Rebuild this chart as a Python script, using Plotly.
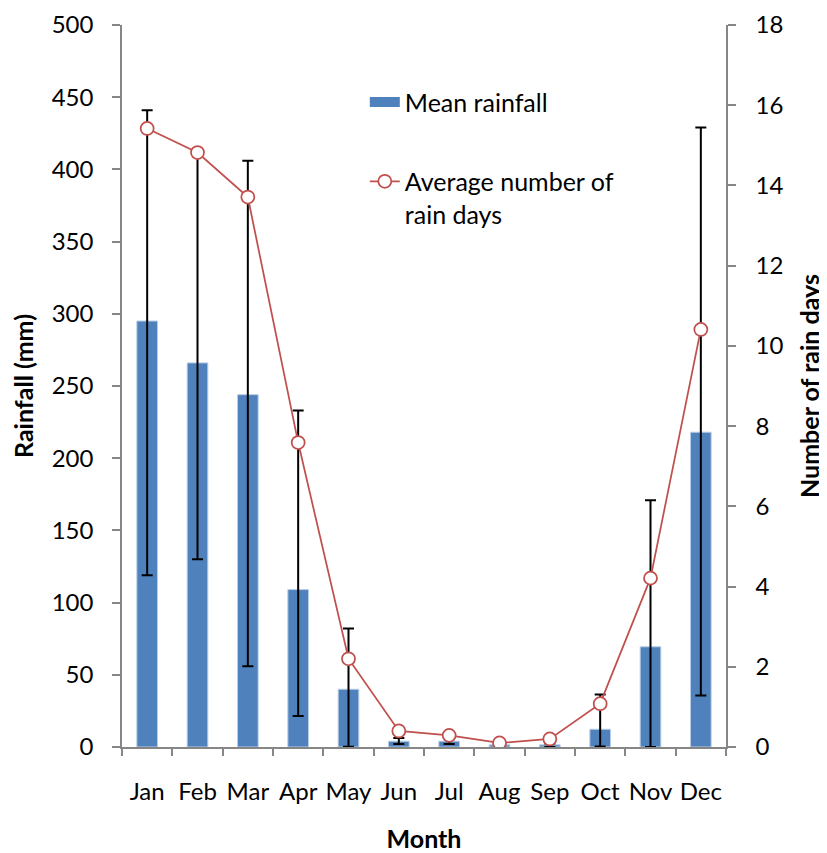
import plotly.graph_objects as go

months = ["Jan", "Feb", "Mar", "Apr", "May", "Jun", "Jul", "Aug", "Sep", "Oct", "Nov", "Dec"]
mean_rainfall = [295, 266, 244, 109, 40, 4, 4, 1.5, 1.5, 12.3, 69.4, 218]
err_plus = [146, 145, 162, 124, 42, 2.2, 4, 0.5, 1, 24, 101.5, 211]
err_minus = [176, 136, 188, 87.5, 39.8, 2, 2, 1, 1.5, 12, 69.4, 182.4]
rain_days = [15.42, 14.82, 13.71, 7.59, 2.2, 0.4, 0.29, 0.1, 0.2, 1.08, 4.21, 10.41]

BLUE = "#4F81BD"
RED = "#C0504D"
AXIS = "#868686"
FONT = "Lato"
TICK = 24
TITLE = 25
LEG = 25

fig = go.Figure()

fig.add_trace(go.Bar(
    x=months, y=mean_rainfall, name="Mean rainfall",
    marker=dict(color=BLUE, line=dict(color="#B9CDE5", width=1)),
    width=0.41,
    error_y=dict(type="data", symmetric=False, array=err_plus, arrayminus=err_minus,
                 color="black", thickness=2, width=5.5),
    showlegend=False, yaxis="y",
))

# legend-only swatch for the bar series
fig.add_trace(go.Scatter(
    x=[None], y=[None], mode="lines", name="Mean rainfall",
    line=dict(color=BLUE, width=15), legend="legend", yaxis="y",
))

fig.add_trace(go.Scatter(
    x=months, y=rain_days, name="Average number of<br>rain days",
    mode="lines+markers",
    line=dict(color=RED, width=1.75),
    marker=dict(symbol="circle", size=13, color="white", line=dict(color=RED, width=1.75)),
    yaxis="y2", legend="legend2",
))

fig.update_layout(
    width=819, height=845,
    margin=dict(l=114, r=101, t=17, b=106, autoexpand=False),
    paper_bgcolor="white", plot_bgcolor="white",
    font=dict(family=FONT, size=TICK, color="black"),
    xaxis=dict(
        type="category", showline=True, linecolor=AXIS, linewidth=1.5,
        ticks="outside", tickson="boundaries", ticklen=7, tickcolor=AXIS, tickwidth=1.5,
        ticklabelstandoff=22, tickangle=0, tickfont=dict(size=TICK), automargin=False,
        title=dict(text="<b>Month</b>", standoff=28, font=dict(size=TITLE)),
        range=[-0.5, 11.5],
    ),
    yaxis=dict(
        range=[0, 500], dtick=50, showgrid=False, zeroline=False,
        showline=True, linecolor=AXIS, linewidth=1.5,
        ticks="outside", ticklen=8, tickcolor=AXIS, tickwidth=1.5,
        ticklabelstandoff=14, tickfont=dict(size=TICK), automargin=False,
        title=dict(text="<b>Rainfall (mm)</b>", standoff=17, font=dict(size=TITLE)),
    ),
    yaxis2=dict(
        range=[0, 18], dtick=2, overlaying="y", side="right", showgrid=False, zeroline=False,
        showline=True, linecolor=AXIS, linewidth=1.5,
        ticks="outside", ticklen=8, tickcolor=AXIS, tickwidth=1.5,
        ticklabelstandoff=15, tickfont=dict(size=TICK), automargin=False,
        title=dict(text="<b>Number of rain days</b>", standoff=19, font=dict(size=TITLE)),
    ),
    legend=dict(x=0.402, y=0.893, xanchor="left", yanchor="middle",
                bgcolor="rgba(0,0,0,0)", font=dict(size=LEG)),
    legend2=dict(x=0.402, y=0.815, xanchor="left", yanchor="top", valign="top",
                 bgcolor="rgba(0,0,0,0)", font=dict(size=LEG)),
)

fig.write_html("out.html")
